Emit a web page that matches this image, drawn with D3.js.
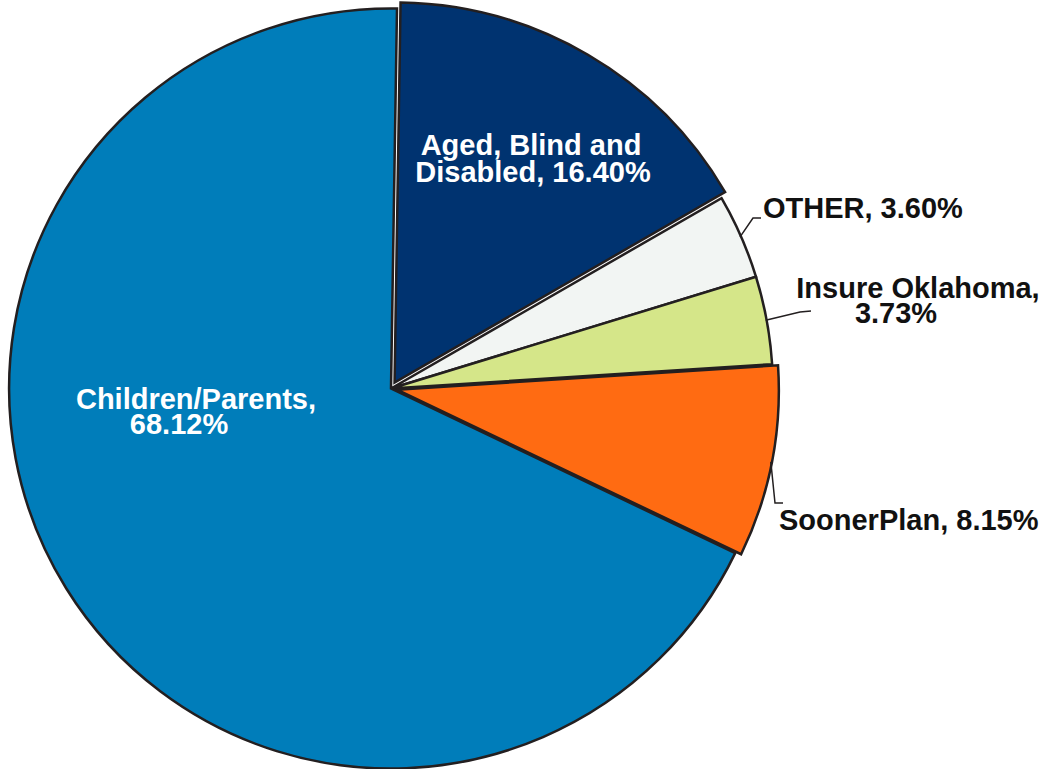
<!DOCTYPE html>
<html>
<head>
<meta charset="utf-8">
<script src="https://cdn.jsdelivr.net/npm/d3@7"></script>
<style>
  html, body { margin: 0; padding: 0; background: #fff; }
  svg text { font-family: "Liberation Sans", Arial, sans-serif; font-weight: bold; }
</style>
</head>
<body>
<div id="chart"></div>
<script>
// Slice data, clockwise from 12 o'clock
const categories = ["Aged, Blind and Disabled", "OTHER", "Insure Oklahoma", "SoonerPlan", "Children/Parents"];
const shares = [16.40, 3.60, 3.73, 8.15, 68.12];
const sliceColors = ["#003370", "#f2f5f3", "#d5e689", "#ff6b12", "#007dba"];
const labelLines = [
    ["Aged, Blind and", "Disabled, 16.40%"],
    ["OTHER, 3.60%"],
    ["Insure Oklahoma,", "3.73%"],
    ["SoonerPlan, 8.15%"],
    ["Children/Parents,", "68.12%"]
];

const width = 1045, height = 769;
const cx = 391, cy = 388.5, radius = 380;
const startOffset = 0.9 * Math.PI / 180;

// Per-slice layout: explode distance, label placement and leader elbows (screen px)
const layout = [
    { explode: 7, inside: true, color: "#fff", lines: [[531, 155], [533, 182]] },
    { explode: 0, inside: false, color: "#111", anchor: "start", lines: [[763, 218]], leader: [[753, 218], [761, 218]] },
    { explode: 0, inside: false, color: "#111", lines: [[918, 298], [896, 323]], leader: [[800, 312], [811, 311]] },
    { explode: 6, inside: false, color: "#111", anchor: "start", lines: [[779, 530]], leader: [[775, 503], [783, 503]] },
    { explode: 0, inside: true, color: "#fff", lines: [[196, 409], [179, 434]] }
];

const svg = d3.select("#chart").append("svg")
    .attr("width", width)
    .attr("height", height);

const pie = d3.pie()
    .sort(null)
    .value(d => d)
    .startAngle(startOffset)
    .endAngle(startOffset + 2 * Math.PI);

const arcs = pie(shares);
const arc = d3.arc().innerRadius(0).outerRadius(radius);

const g = svg.append("g")
    .attr("transform", `translate(${cx},${cy}) scale(1.005,1)`);

g.selectAll("path.slice")
    .data(arcs)
    .join("path")
    .attr("class", "slice")
    .attr("transform", (d, i) => {
        const mid = (d.startAngle + d.endAngle) / 2;
        const e = layout[i].explode;
        return `translate(${e * Math.sin(mid)},${-e * Math.cos(mid)})`;
    })
    .attr("fill", (d, i) => sliceColors[i])
    .attr("stroke", "#231f20")
    .attr("stroke-width", 2.5)
    .attr("stroke-linejoin", "miter")
    .attr("d", arc);

// Leader lines for outside labels
arcs.forEach((d, i) => {
    const l = layout[i];
    if (!l.leader) return;
    const mid = (d.startAngle + d.endAngle) / 2;
    const r = radius + l.explode - 1;
    const p0 = [cx + r * Math.sin(mid) * 1.005, cy - r * Math.cos(mid)];
    svg.append("path")
        .attr("d", d3.line()([p0, ...l.leader]))
        .attr("fill", "none")
        .attr("stroke", "#231f20")
        .attr("stroke-width", 1.5);
});

// Labels
arcs.forEach((d, i) => {
    const l = layout[i];
    labelLines[i].forEach((txt, j) => {
        svg.append("text")
            .attr("x", l.lines[j][0])
            .attr("y", l.lines[j][1])
            .attr("text-anchor", l.anchor || "middle")
            .attr("fill", l.color)
            .attr("font-size", 29)
            .text(txt);
    });
});
</script>
</body>
</html>
